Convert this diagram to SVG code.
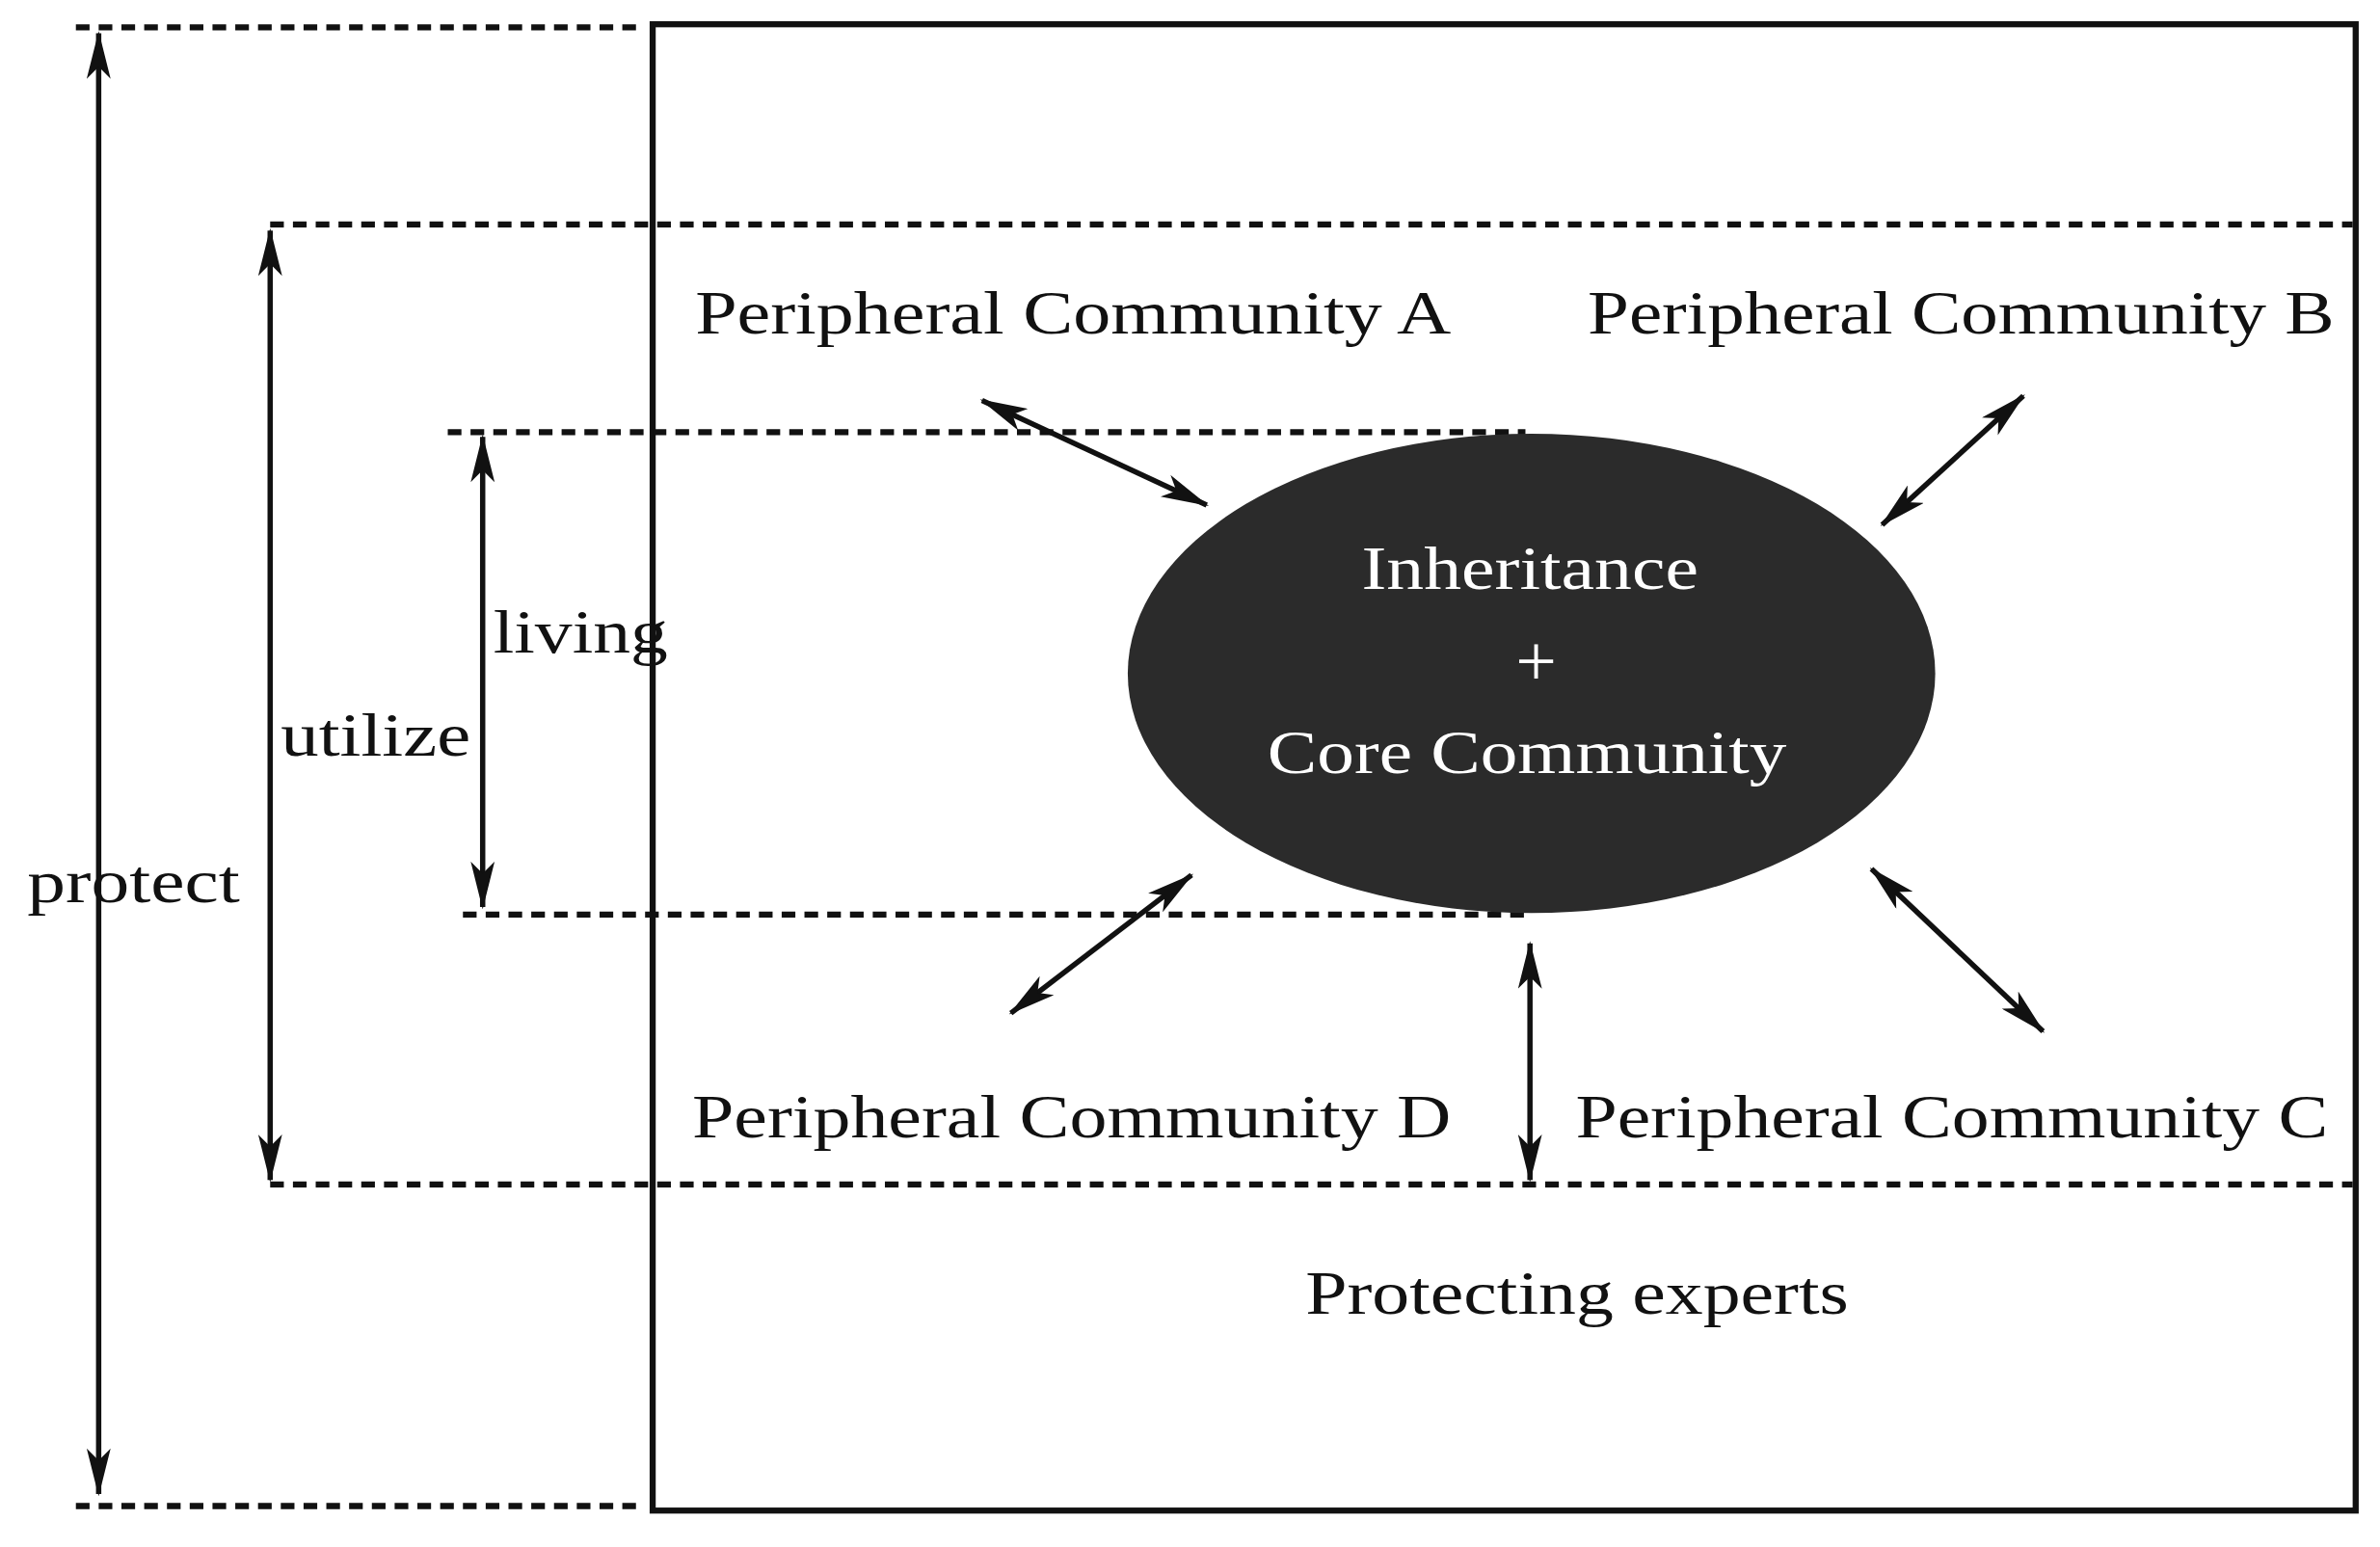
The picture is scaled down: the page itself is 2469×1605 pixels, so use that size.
<svg xmlns="http://www.w3.org/2000/svg" width="2469" height="1605" viewBox="0 0 2469 1605">
<style>
.d{stroke:#111;stroke-width:4;stroke-dasharray:9 6;fill:none}
.a{stroke:#111;stroke-width:3.5;fill:none;marker-start:url(#h);marker-end:url(#h)}
.t{font-family:"Liberation Serif",serif;font-size:40px;fill:#111}
.w{font-family:"Liberation Serif",serif;font-size:40px;fill:#fff;text-anchor:middle}
</style>
<defs>
<marker id="h" viewBox="0 0 20 10" refX="19" refY="5" markerWidth="9" markerHeight="4.5" orient="auto-start-reverse" markerUnits="strokeWidth">
<path d="M0,0 L20,5 L0,10 L5,5 Z" fill="#111"/>
</marker>
</defs>
<rect width="2469" height="1605" fill="#fff"/>
<g transform="scale(1.5746,1.5735)">
<g id="frame"><rect x="430" y="16" width="1122" height="980" fill="none" stroke="#111" stroke-width="4"/></g>
<g id="connectors">
<line class="d" x1="50" y1="18" x2="420" y2="18"/>
<line class="d" x1="178" y1="148" x2="1550" y2="148"/>
<line class="d" x1="295" y1="285" x2="1005" y2="285"/>
<line class="d" x1="305" y1="603" x2="1005" y2="603"/>
<line class="d" x1="178" y1="781" x2="1550" y2="781"/>
<line class="d" x1="50" y1="993" x2="420" y2="993"/>
<line class="a" x1="65" y1="22" x2="65" y2="985"/>
<line class="a" x1="178" y1="152" x2="178" y2="778"/>
<line class="a" x1="318" y1="288" x2="318" y2="598"/>
<line class="a" x1="647" y1="264" x2="795" y2="333"/>
<line class="a" x1="1333" y1="261" x2="1240" y2="346"/>
<line class="a" x1="785" y1="577" x2="666" y2="668"/>
<line class="a" x1="1233" y1="573" x2="1346" y2="680"/>
<line class="a" x1="1008" y1="622" x2="1008" y2="778"/>
</g>
<g id="core">
<ellipse cx="1009" cy="444" rx="266" ry="158" fill="#2b2b2b"/>
<text class="w" x="1008" y="388" textLength="222" lengthAdjust="spacingAndGlyphs">Inheritance</text>
<text class="w" x="1012" y="452" style="font-size:48px">+</text>
<text class="w" x="1006" y="510" textLength="342" lengthAdjust="spacingAndGlyphs">Core Community</text>
</g>
<g id="pA"><text class="t" x="458" y="220" textLength="498" lengthAdjust="spacingAndGlyphs">Peripheral Community A</text></g>
<g id="pB"><text class="t" x="1046" y="220" textLength="492" lengthAdjust="spacingAndGlyphs">Peripheral Community B</text></g>
<g id="pD"><text class="t" x="456" y="750" textLength="500" lengthAdjust="spacingAndGlyphs">Peripheral Community D</text></g>
<g id="pC"><text class="t" x="1038" y="750" textLength="496" lengthAdjust="spacingAndGlyphs">Peripheral Community C</text></g>
<g id="experts"><text class="t" x="860" y="866" textLength="358" lengthAdjust="spacingAndGlyphs">Protecting experts</text></g>
<g id="living"><text class="t" x="325" y="430" textLength="115" lengthAdjust="spacingAndGlyphs">living</text></g>
<g id="utilize"><text class="t" x="185" y="498" textLength="125" lengthAdjust="spacingAndGlyphs">utilize</text></g>
<g id="protect"><text class="t" x="18" y="595" textLength="140" lengthAdjust="spacingAndGlyphs">protect</text></g>
</g>
</svg>
